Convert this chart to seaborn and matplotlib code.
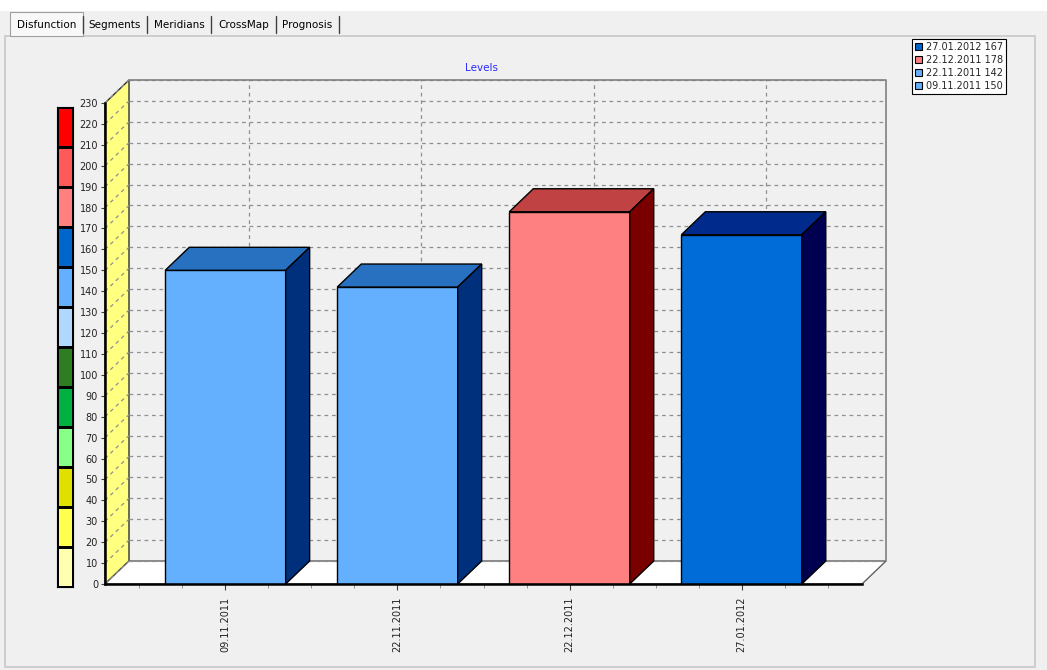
import numpy as np
import pandas as pd
import matplotlib
matplotlib.use("Agg")
import matplotlib.pyplot as plt
import seaborn as sns
from matplotlib.patches import Polygon, Rectangle, Patch
from matplotlib.colors import ListedColormap
from matplotlib.lines import Line2D

# ---- data ----
dates = ["09.11.2011", "22.11.2011", "22.12.2011", "27.01.2012"]
values = [150, 142, 178, 167]
front_colors = ["#64b0ff", "#64b0ff", "#ff8080", "#006cd8"]
top_colors = ["#2870c0", "#2870c0", "#c04242", "#002a8c"]
side_colors = ["#00307c", "#00307c", "#7a0000", "#000050"]
legend_labels = ["27.01.2012 167", "22.12.2011 178", "22.11.2011 142", "09.11.2011 150"]
legend_colors = ["#0066cc", "#ff8080", "#64b0ff", "#64b0ff"]
scale_colors = ["#ff0000", "#ff5a5a", "#ff8080", "#0066cc", "#64b0ff", "#b0d8ff",
                "#2e7d22", "#00b040", "#88ff88", "#e0e000", "#ffff50", "#ffffb0"]
yticks = list(range(0, 240, 10))
tabs = ["Disfunction", "Segments", "Meridians", "CrossMap", "Prognosis"]
tab_edges = [10, 83, 147, 211, 276, 339]

W, H = 1047, 670
sns.set_theme(style="white")
plt.rcParams['font.family'] = ['DejaVu Sans']
fig = plt.figure(figsize=(W / 100, H / 100), dpi=100, facecolor="#f0f0f0")

def fx(px):
    return px / W

def fy(py):
    return 1 - py / H

# top white strip and tabs
fig.patches.append(Rectangle((0, fy(11)), 1, 1 - fy(11), transform=fig.transFigure,
                             facecolor="white", edgecolor="none", zorder=0))
fig.patches.append(Rectangle((fx(10), fy(36)), fx(73), fy(12) - fy(36), transform=fig.transFigure,
                             facecolor="#f8f8f8", edgecolor="#a0a0a0", lw=0.8, zorder=1))
for i, t in enumerate(tabs):
    cx = (tab_edges[i] + tab_edges[i + 1]) / 2
    fig.text(fx(cx), fy(25), t, ha="center", va="center", fontsize=7.5, color="black")
    fig.add_artist(Line2D([fx(tab_edges[i + 1]), fx(tab_edges[i + 1])], [fy(16), fy(33)],
                          transform=fig.transFigure, color="#404040", lw=1))
# panel border
fig.patches.append(Rectangle((fx(5), fy(667)), fx(1030), fy(36) - fy(667), transform=fig.transFigure,
                             facecolor="none", edgecolor="#c8c8c8", lw=1.2, zorder=0))

# ---- main axes (front plane) ----
x0, x1 = -0.7, 3.7
ax = fig.add_axes([fx(105), fy(584), fx(862) - fx(105), fy(103) - fy(584)])
ax.set_facecolor("none")
ax.set_xlim(x0, x1)
ax.set_ylim(0, 230)

dx = 24 / 172.0          # depth in category units
dy = 23 / ((584 - 103) / 230.0)  # depth in value units
top = 230

df = pd.DataFrame({"date": dates, "value": values})
sns.barplot(data=df, x="date", y="value", hue="date", palette=front_colors, legend=False,
            width=0.7, saturation=1, edgecolor="black", linewidth=1, ax=ax, zorder=3)
bars = list(ax.patches)
ax.set_xlim(x0, x1)
ax.set_ylim(0, 230)

# left wall
ax.add_patch(Polygon([(x0, 0), (x0, top), (x0 + dx, top + dy), (x0 + dx, dy)], closed=True,
                     facecolor="#ffff80", edgecolor="#303030", lw=1, zorder=0.5, clip_on=False))
# floor
ax.add_patch(Polygon([(x0, 0), (x0 + dx, dy), (x1 + dx, dy), (x1, 0)], closed=True,
                     facecolor="white", edgecolor="#606060", lw=1, zorder=0.6, clip_on=False))
# back wall gridlines
for v in yticks:
    ax.plot([x0 + dx, x1 + dx], [v + dy, v + dy], ls=(0, (3, 3)), color="#909090", lw=0.9,
            zorder=0.7, clip_on=False)
    ax.plot([x0, x0 + dx], [v, v + dy], ls=(0, (3, 3)), color="#909090", lw=0.9,
            zorder=0.7, clip_on=False)
for i in range(len(dates)):
    ax.plot([i + dx, i + dx], [dy, top + dy], ls=(0, (3, 3)), color="#909090", lw=0.9,
            zorder=0.7, clip_on=False)
# back wall outline
ax.plot([x0 + dx, x1 + dx, x1 + dx], [top + dy, top + dy, dy], color="#808080", lw=1.2,
        zorder=0.8, clip_on=False)

# 3D faces of bars
for b, tc, sc in zip(bars, top_colors, side_colors):
    bx, bw, bh = b.get_x(), b.get_width(), b.get_height()
    ax.add_patch(Polygon([(bx, bh), (bx + dx, bh + dy), (bx + bw + dx, bh + dy), (bx + bw, bh)],
                         closed=True, facecolor=tc, edgecolor="black", lw=1, zorder=3, clip_on=False))
    ax.add_patch(Polygon([(bx + bw, 0), (bx + bw, bh), (bx + bw + dx, bh + dy), (bx + bw + dx, dy)],
                         closed=True, facecolor=sc, edgecolor="black", lw=1, zorder=3, clip_on=False))

for s in ["top", "right"]:
    ax.spines[s].set_visible(False)
for s in ["left", "bottom"]:
    ax.spines[s].set_color("black")
    ax.spines[s].set_linewidth(1.8)
    ax.spines[s].set_zorder(5)
ax.set_yticks(yticks)
ax.set_yticklabels([str(v) for v in yticks])
ax.set_xticks(range(len(dates)))
ax.set_xticklabels(dates, rotation=90)
ax.set_xticks(np.arange(-0.5, 3.75, 0.25), minor=True)
ax.tick_params(axis="y", length=3, width=0.8, color="#404040", labelsize=7, pad=2,
               labelcolor="#222222", left=True)
ax.tick_params(axis="x", which="major", length=4, width=0.8, color="#404040", labelsize=7, pad=5,
               labelcolor="#222222", bottom=True)
ax.tick_params(axis="x", which="minor", length=3, width=0.6, color="#808080", bottom=True)
ax.set_xlabel("")
ax.set_ylabel("")

# title
fig.text(fx(481), fy(68), "Levels", ha="center", va="center", fontsize=7.5, color="#2a2aff")

# legend
handles = [Patch(facecolor=c, edgecolor="black", lw=0.8) for c in legend_colors]
leg = fig.legend(handles, legend_labels, loc="upper left", bbox_to_anchor=(fx(912), fy(39)),
                 frameon=True, fancybox=False, edgecolor="black", facecolor="white", framealpha=1,
                 fontsize=7, handlelength=0.75, handleheight=0.75, borderpad=0.3,
                 labelspacing=0.32, handletextpad=0.4, borderaxespad=0)
leg.get_frame().set_linewidth(0.8)

# colour scale strip
axs = fig.add_axes([fx(57), fy(587), fx(16), fy(107) - fy(587)])
sns.heatmap(np.arange(len(scale_colors)).reshape(-1, 1), cmap=ListedColormap(scale_colors),
            cbar=False, linewidths=1.0, linecolor="black", ax=axs, xticklabels=False,
            yticklabels=False)
for s in axs.spines.values():
    s.set_visible(True)
    s.set_color("black")
    s.set_linewidth(0.8)

fig.savefig("out.png", dpi=100, facecolor=fig.get_facecolor())
